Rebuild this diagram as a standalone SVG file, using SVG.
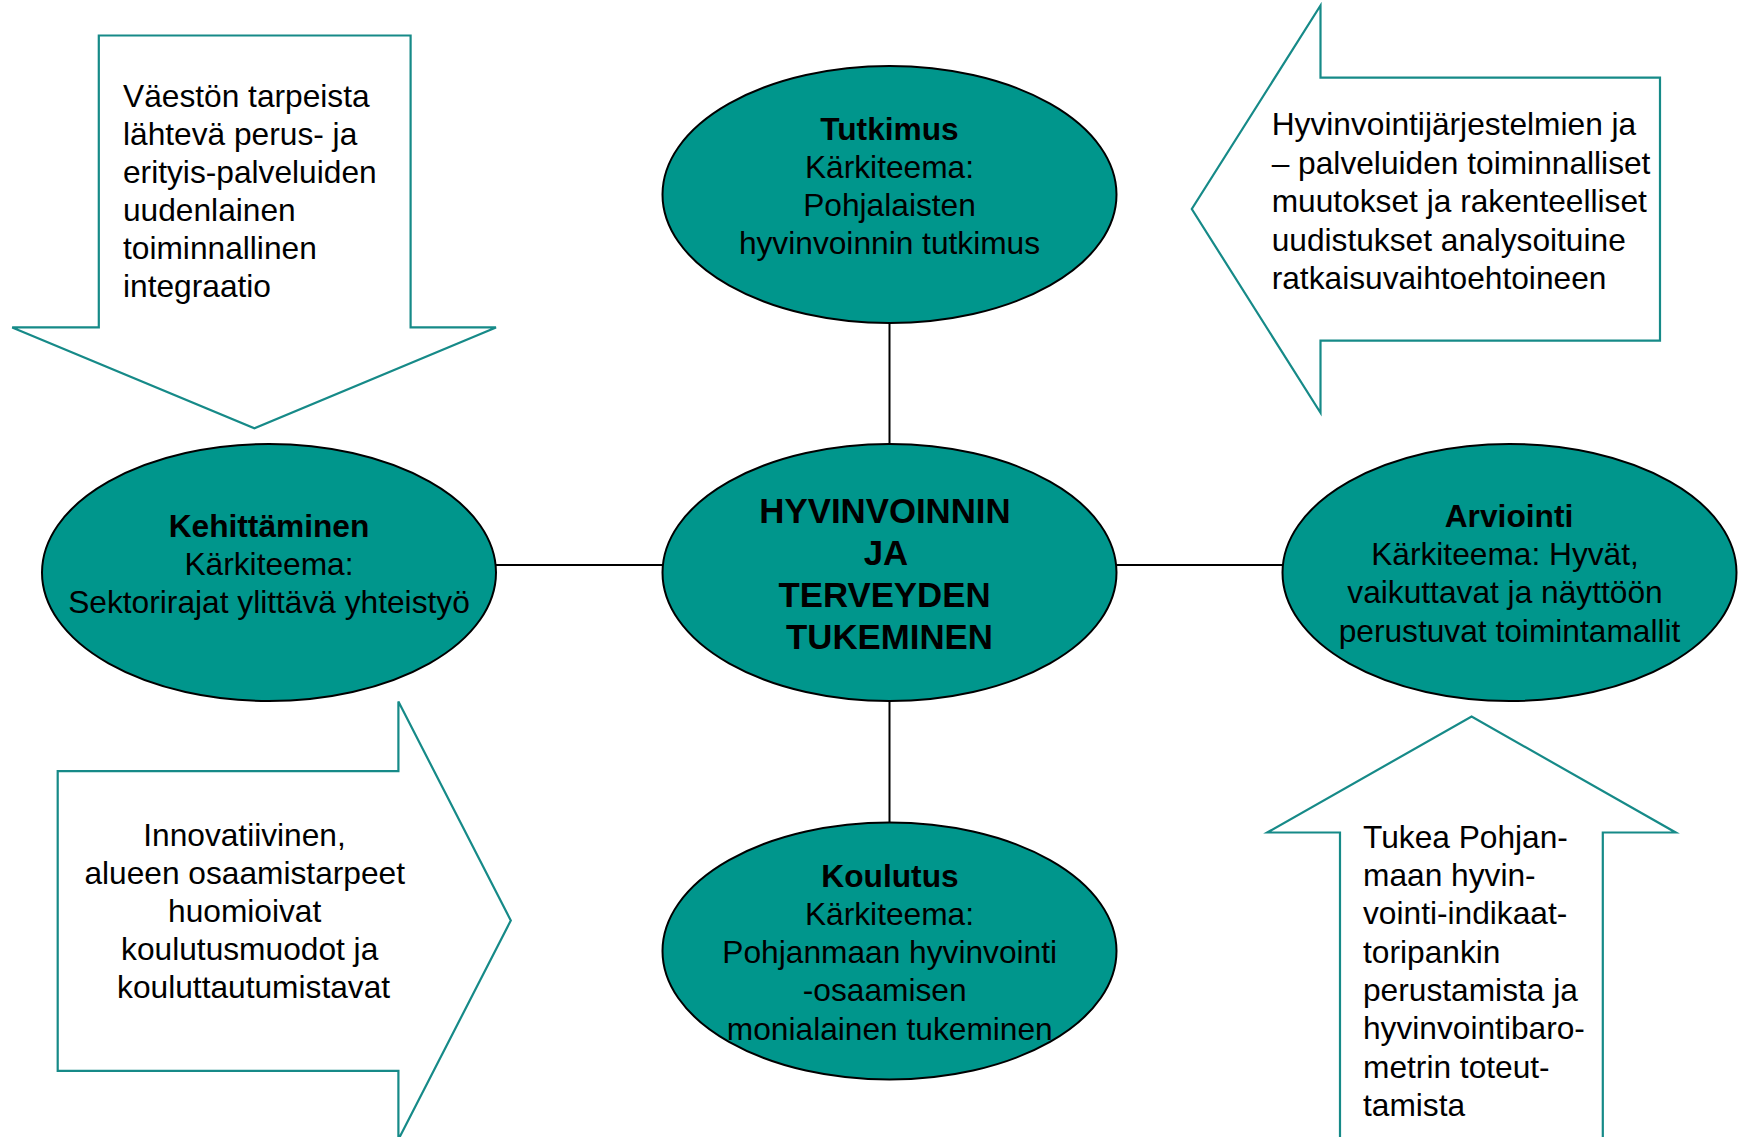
<svg xmlns="http://www.w3.org/2000/svg" width="1740" height="1137" viewBox="0 0 1740 1137">
<style>
.bg{fill:#ffffff}
.ell{fill:#00968C;stroke:#000000;stroke-width:2}
.arr{fill:#ffffff;stroke:#168A88;stroke-width:2.2;stroke-linejoin:miter}
.con{stroke:#000000;stroke-width:2;fill:none}
text{font-family:"Liberation Sans",Arial,sans-serif;font-size:31.7px;fill:#000000}
.c{text-anchor:middle}
.b{font-weight:bold}
.big{font-size:34.8px;font-weight:bold}
</style>
<rect class="bg" x="0" y="0" width="1740" height="1137"/>
<g id="connectors">
<line class="con" x1="889.5" y1="323" x2="889.5" y2="445"/>
<line class="con" x1="889.5" y1="700" x2="889.5" y2="823"/>
<line class="con" x1="495" y1="565" x2="663" y2="565"/>
<line class="con" x1="1116" y1="565" x2="1284" y2="565"/>
</g>
<g id="arrow-down">
<polygon class="arr" points="98.8,35.5 410.6,35.5 410.6,327.4 496,327.4 254.4,428.3 12.2,327.4 98.8,327.4"/>
<text x="123" y="107.3">Väestön tarpeista</text>
<text x="123" y="145.2">lähtevä perus- ja</text>
<text x="123" y="183.1">erityis-palveluiden</text>
<text x="123" y="221">uudenlainen</text>
<text x="123" y="258.9">toiminnallinen</text>
<text x="123" y="296.8">integraatio</text>
</g>
<g id="arrow-left">
<polygon class="arr" points="1660,77.7 1660,340.7 1320.5,340.7 1320.5,412.8 1191.8,209 1320.5,5.5 1320.5,77.7"/>
<text x="1271.7" y="135">Hyvinvointijärjestelmien ja</text>
<text x="1271.7" y="173.5">– palveluiden toiminnalliset</text>
<text x="1271.7" y="212">muutokset ja rakenteelliset</text>
<text x="1271.7" y="250.5">uudistukset analysoituine</text>
<text x="1271.7" y="289">ratkaisuvaihtoehtoineen</text>
</g>
<g id="arrow-right">
<polygon class="arr" points="57.7,771.2 398.4,771.2 398.4,701.5 510.8,920.5 398.4,1139.5 398.4,1070.8 57.7,1070.8"/>
<text class="c" x="244.5" y="846">Innovatiivinen,</text>
<text class="c" x="244.7" y="884">alueen osaamistarpeet</text>
<text class="c" x="244.7" y="922">huomioivat</text>
<text class="c" x="249.7" y="960">koulutusmuodot ja</text>
<text class="c" x="253.6" y="998">kouluttautumistavat</text>
</g>
<g id="arrow-up">
<polygon class="arr" points="1340,1145 1340,832.5 1267.3,832.5 1471.6,716.5 1675.7,832.5 1602.8,832.5 1602.8,1145"/>
<text x="1363" y="847.7">Tukea Pohjan-</text>
<text x="1363" y="886">maan hyvin-</text>
<text x="1363" y="924.3">vointi-indikaat-</text>
<text x="1363" y="962.6">toripankin</text>
<text x="1363" y="1000.9">perustamista ja</text>
<text x="1363" y="1039.2">hyvinvointibaro-</text>
<text x="1363" y="1077.5">metrin toteut-</text>
<text x="1363" y="1115.8">tamista</text>
</g>
<g id="node-tutkimus">
<ellipse class="ell" cx="889.5" cy="194.5" rx="227" ry="128.5"/>
<text class="c b" x="889.5" y="140">Tutkimus</text>
<text class="c" x="889.5" y="178">Kärkiteema:</text>
<text class="c" x="889.5" y="216">Pohjalaisten</text>
<text class="c" x="889.5" y="253.5">hyvinvoinnin tutkimus</text>
</g>
<g id="node-center">
<ellipse class="ell" cx="889.5" cy="572.5" rx="227" ry="128.5"/>
<text class="c big" x="885" y="523">HYVINVOINNIN</text>
<text class="c big" x="886" y="565">JA</text>
<text class="c big" x="884.5" y="607">TERVEYDEN</text>
<text class="c big" x="889.5" y="648.5">TUKEMINEN</text>
</g>
<g id="node-kehittaminen">
<ellipse class="ell" cx="269" cy="572.5" rx="227" ry="128.5"/>
<text class="c b" x="269" y="537">Kehittäminen</text>
<text class="c" x="269" y="575">Kärkiteema:</text>
<text class="c" x="269" y="613">Sektorirajat ylittävä yhteistyö</text>
</g>
<g id="node-arviointi">
<ellipse class="ell" cx="1509.5" cy="572.5" rx="227" ry="128.5"/>
<text class="c b" x="1509" y="527.3">Arviointi</text>
<text class="c" x="1505" y="565">Kärkiteema: Hyvät,</text>
<text class="c" x="1505" y="603.3">vaikuttavat ja näyttöön</text>
<text class="c" x="1509.5" y="641.7">perustuvat toimintamallit</text>
</g>
<g id="node-koulutus">
<ellipse class="ell" cx="889.5" cy="951" rx="227" ry="128.5"/>
<text class="c b" x="890" y="886.7">Koulutus</text>
<text class="c" x="889.5" y="925">Kärkiteema:</text>
<text class="c" x="889.7" y="963.3">Pohjanmaan hyvinvointi</text>
<text class="c" x="884.7" y="1001.3">-osaamisen</text>
<text class="c" x="889.8" y="1039.5">monialainen tukeminen</text>
</g>
</svg>
